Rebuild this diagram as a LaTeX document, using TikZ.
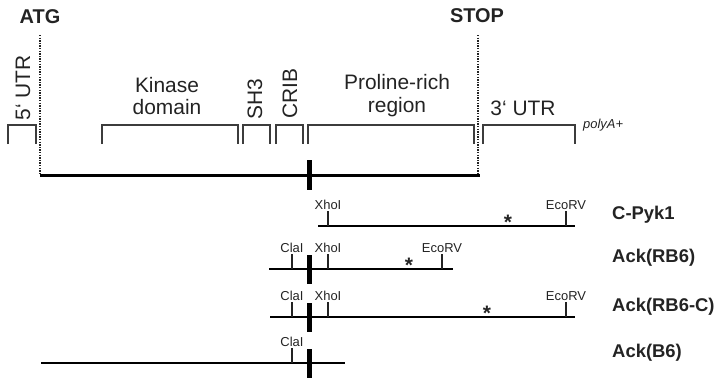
\documentclass[tikz,border=0pt]{standalone}
\usepackage{fontspec}
\setmainfont{Liberation Sans}
\usetikzlibrary{positioning}
\definecolor{grisTexte}{RGB}{35,35,35}
\definecolor{grisTrait}{RGB}{60,60,60}

\begin{document}
\begin{tikzpicture}[x=1bp,y=-1bp,
  titre/.style={font=\fontsize{20}{22}\selectfont\bfseries,text=grisTexte,inner sep=0pt},
  dom/.style={font=\fontsize{21}{23}\selectfont,text=grisTexte,align=center,inner sep=0pt},
  site/.style={font=\fontsize{13}{14}\selectfont,text=grisTexte,inner sep=0pt,anchor=base},
  clone/.style={font=\fontsize{18.5}{20}\selectfont\bfseries,text=grisTexte,anchor=west,inner sep=0pt},
  etoile/.style={font=\fontsize{21}{22}\selectfont\bfseries,text=grisTexte,inner sep=0pt,anchor=base},
  crochet/.style={draw=grisTrait,line width=1.3bp},
  pointille/.style={draw=grisTexte,line width=1.3bp,dash pattern=on 1.3bp off 1.3bp},
  adn/.style={draw=black,line width=2bp},
  barre/.style={draw=black,line width=5bp}]

  \useasboundingbox (0,0) rectangle (716,378);

  % codons and coding sequence
  \node[titre] (atg)  at (40,17)  {ATG};
  \node[titre] (stop) at (477,16) {STOP};
  \coordinate (cds-a) at (40,175);
  \coordinate (cds-b) at (480,175);
  \draw[pointille] (40,35) -- (cds-a);
  \draw[pointille] (478,35) -- (478,175);
  \draw[black,line width=3bp] (cds-a) -- (cds-b);
  \draw[barre] (309,160) -- (309,190);

  % domains
  \foreach \a/\b in {8/36,102/238,243/270,276/303,308/474,483/575} {
    \draw[crochet] (\a,144) |- (\b,125) -- (\b,144);
  }
  \node[dom,rotate=90] (utr5)    at (23,88)  {5‘ UTR};
  \node[dom]           (kinase)  at (167,96) {Kinase\\domain};
  \node[dom,rotate=90] (sh3)     at (255,99) {SH3};
  \node[dom,rotate=90] (crib)    at (290,94) {CRIB};
  \node[dom]           (proline) at (397,96) {Proline-rich\\region};
  \node[dom]           (utr3)    at (523,108) {3‘ UTR};
  \node[site,anchor=west,font=\fontsize{13}{14}\selectfont\itshape] (polya) at (583,125) {polyA+};

  % clones
  \coordinate (c1-a) at (318,226); \coordinate (c1-b) at (575,226);
  \coordinate (c2-a) at (269,269); \coordinate (c2-b) at (453,269);
  \coordinate (c3-a) at (270,317); \coordinate (c3-b) at (575,317);
  \coordinate (c4-a) at (41,363);  \coordinate (c4-b) at (345,363);
  \foreach \r in {1,2,3,4} {
    \draw[adn] (c\r-a) -- (c\r-b);
  }
  \foreach \y in {269,317,363} {
    \draw[barre] (309,\y-14) -- (309,\y+15);
  }

  % restriction sites
  \foreach \n/\x/\y/\t in {x1/328/226/XhoI,e1/566/226/EcoRV,
                            c2/292/269/ClaI,x2/328/269/XhoI,e2/442/269/EcoRV,
                            c3/292/317/ClaI,x3/328/317/XhoI,e3/566/317/EcoRV,
                            c4/292/363/ClaI} {
    \draw[grisTexte,line width=1.3bp] (\x,\y) -- (\x,\y-15);
    \node[site] (\n) at (\x,\y-17) {\t};
  }

  \node[etoile] (s1) at (508,229) {*};
  \node[etoile] (s2) at (409,272) {*};
  \node[etoile] (s3) at (487,320) {*};

  \node[clone] (cpyk)    at (612,215) {C-Pyk1};
  \node[clone] (ackrb6)  at (612,258) {Ack(RB6)};
  \node[clone] (ackrb6c) at (612,307) {Ack(RB6-C)};
  \node[clone] (ackb6)   at (612,353) {Ack(B6)};
\end{tikzpicture}
\end{document}
